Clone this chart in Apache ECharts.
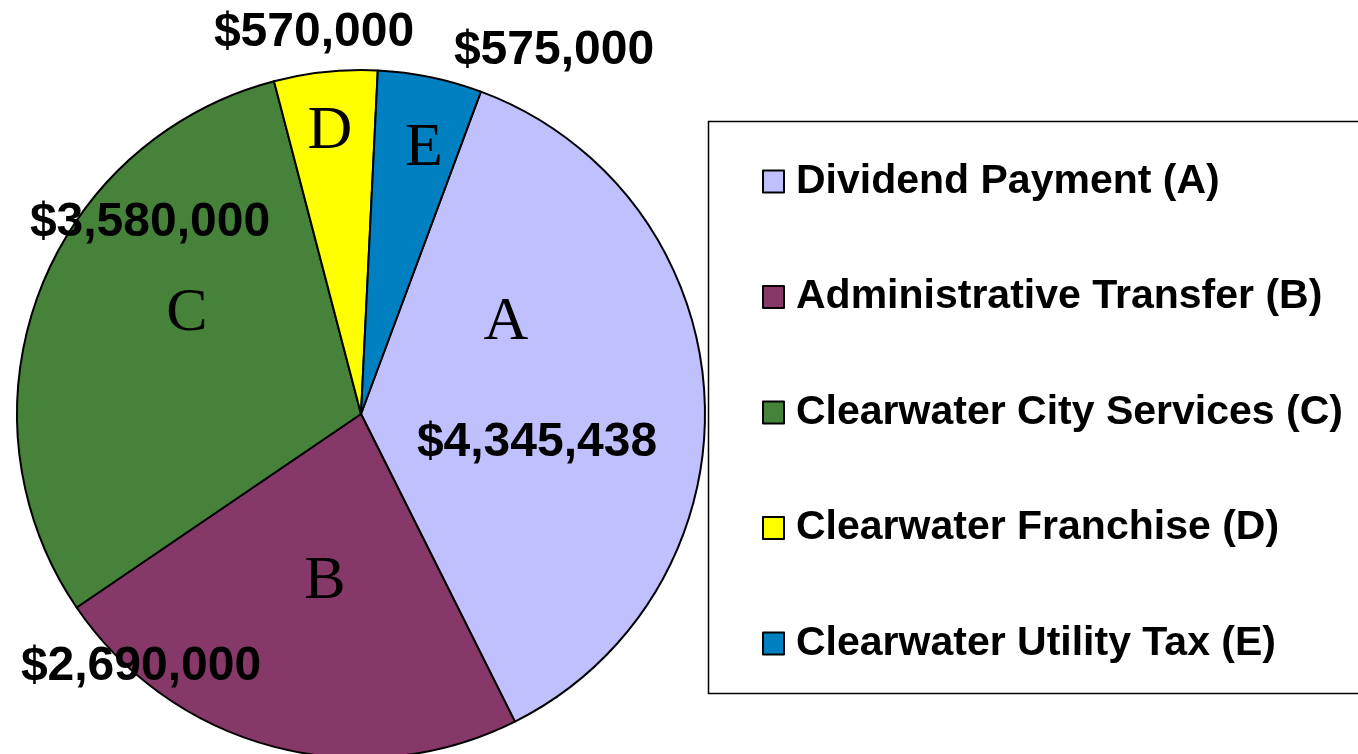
<!DOCTYPE html>
<html>
<head>
<meta charset="utf-8">
<script src="https://cdn.jsdelivr.net/npm/echarts@6/dist/echarts.min.js"></script>
<style>
  html, body { margin: 0; padding: 0; background: #fff; }
  #grafica { width: 1358px; height: 754px; }
</style>
</head>
<body>
<div id="grafica"></div>
<script>
// datos del grafico
const nombres = ['Dividend Payment (A)', 'Administrative Transfer (B)', 'Clearwater City Services (C)', 'Clearwater Franchise (D)', 'Clearwater Utility Tax (E)'];
const letras = ['A', 'B', 'C', 'D', 'E'];
const valores = [4345438, 2690000, 3580000, 570000, 575000];
const colores = ['#C0C0FF', '#863869', '#46823A', '#FFFF00', '#0080C0'];

// donde van las etiquetas (px)
const pos_letras = [[506, 323], [325, 582], [187, 314], [330, 132], [424, 149]];
const pos_valores = [[537, 443], [141, 667], [150, 223], [314, 33], [554, 51]];

function money(v){
  return '$' + v.toLocaleString('en-US');
}

let chart = echarts.init(document.getElementById('grafica'));

let datos = valores.map((v, i) => ({
  value: v,
  name: nombres[i],
  itemStyle: { color: colores[i] }
}));

let options = {
  animation: false,
  graphic: [
    {
      type: 'rect',
      shape: { x: 708.5, y: 121.5, width: 700, height: 572 },
      style: { fill: 'none', stroke: '#000', lineWidth: 1.5 },
      z: 0
    }
  ],
  legend: {
    orient: 'vertical',
    left: 762,
    top: 161,
    padding: 0,
    itemWidth: 21,
    itemHeight: 22,
    itemGap: 74.5,
    icon: 'rect',
    itemStyle: { borderColor: '#000', borderWidth: 2 },
    textStyle: {
      fontFamily: 'Liberation Sans, Arial, sans-serif',
      fontWeight: 'bold',
      fontSize: 41,
      lineHeight: 40,
      color: '#000',
      padding: [0, 0, 0, 7]
    },
    data: nombres
  },
  series: [
    {
      name: 'letras',
      type: 'pie',
      center: [361, 414],
      radius: 344,
      startAngle: 69.6,
      clockwise: true,
      silent: true,
      itemStyle: { borderColor: '#000', borderWidth: 2 },
      label: {
        show: true,
        position: 'inside',
        formatter: p => letras[p.dataIndex],
        fontFamily: 'Liberation Serif, Times New Roman, serif',
        fontSize: 62,
        color: '#000'
      },
      labelLayout: p => ({
        x: pos_letras[p.dataIndex][0],
        y: pos_letras[p.dataIndex][1],
        align: 'center',
        verticalAlign: 'middle'
      }),
      labelLine: { show: false },
      data: datos
    },
    {
      name: 'valores',
      type: 'pie',
      center: [361, 414],
      radius: 344,
      startAngle: 69.6,
      clockwise: true,
      silent: true,
      z: 3,
      itemStyle: { color: 'rgba(0,0,0,0)', borderWidth: 0 },
      label: {
        show: true,
        position: 'inside',
        formatter: p => money(p.value),
        fontFamily: 'Liberation Sans, Arial, sans-serif',
        fontWeight: 'bold',
        fontSize: 48,
        color: '#000'
      },
      labelLayout: p => ({
        x: pos_valores[p.dataIndex][0],
        y: pos_valores[p.dataIndex][1],
        align: 'center',
        verticalAlign: 'middle'
      }),
      labelLine: { show: false },
      data: valores.map((v, i) => ({ value: v, name: nombres[i] }))
    }
  ]
};

chart.setOption(options);
</script>
</body>
</html>
